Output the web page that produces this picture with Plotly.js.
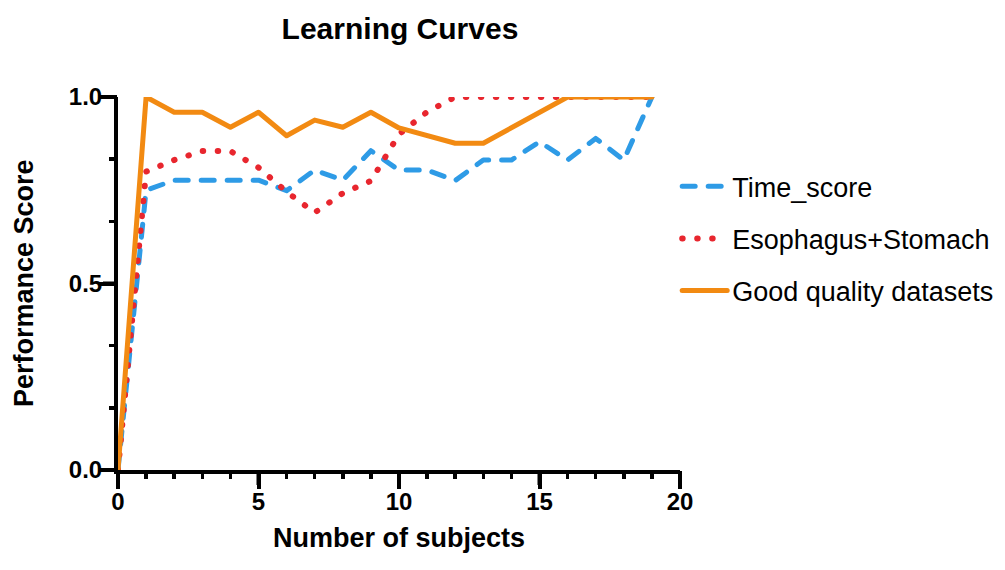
<!DOCTYPE html>
<html>
<head>
<meta charset="utf-8">
<script src="https://cdn.plot.ly/plotly-3.0.1.min.js"></script>
<style>
html,body{margin:0;padding:0;background:#fff;}
#chart{width:1005px;height:570px;}
.js-line{stroke-linecap:round;stroke-linejoin:round;}
.legendlines path{stroke-linecap:round;}
</style>
</head>
<body>
<div id="chart"></div>
<script>
const subjects = [0,1,2,3,4,5,6,7,8,9,10,11,12,13,14,15,16,17,18,19];
const timeScore = [0,0.75,0.777,0.777,0.777,0.777,0.749,0.804,0.777,0.856,0.804,0.804,0.776,0.831,0.831,0.88,0.831,0.889,0.831,1.0];
const esophagusStomach = [0,0.80,0.831,0.855,0.855,0.811,0.746,0.69,0.742,0.775,0.90,0.96,1.0,1.0,1.0,1.0,1.0,1.0,1.0,1.0];
const goodQuality = [0,1.0,0.959,0.959,0.919,0.959,0.896,0.938,0.919,0.959,0.917,0.898,0.876,0.876,0.917,0.959,1.0,1.0,1.0,1.0];
const seriesNames = ["Time_score","Esophagus+Stomach","Good quality datasets"];
const titleText = "Learning Curves";
const xTitle = "Number of subjects";
const yTitle = "Performance Score";
const xRange = [0,20];
const yRange = [0,1];
const xMajorTicks = [0,5,10,15,20];
const yMajorTicks = [0,0.5,1.0];
const xTickStep = 5, xMinorStep = 1;
const yTickStep = 0.5, yMinorStep = 1/6;

const FONT = "Arial, 'Liberation Sans', Helvetica, sans-serif";

const traces = [
  {x: subjects, y: timeScore, name: seriesNames[0], mode:'lines', legendgroup:'a', cliponaxis:false,
   line:{color:'#2E9BE6', width:5, dash:'13px,13px'}},
  {x: subjects, y: esophagusStomach, name: seriesNames[1], mode:'lines', legendgroup:'b', cliponaxis:false,
   line:{color:'#E8262E', width:6, dash:'0.5px,14.5px'}},
  {x: subjects, y: goodQuality, name: seriesNames[2], mode:'lines', legendgroup:'c', cliponaxis:false,
   line:{color:'#F28A12', width:5}},
  {x: subjects, y: goodQuality, xaxis:'x2', yaxis:'y2', mode:'lines', showlegend:false,
   hoverinfo:'skip', opacity:0, line:{width:0}},
  {x: subjects, y: goodQuality, xaxis:'x3', yaxis:'y3', mode:'lines', showlegend:false,
   hoverinfo:'skip', opacity:0, line:{width:0}}
];

const noGrid = {showgrid:false, zeroline:false};
const minorCommon = Object.assign({}, noGrid, {
  showline:false, showticklabels:false,
  ticks:'outside', ticklen:8, tickwidth:3.5, tickcolor:'#000', tickmode:'linear', tick0:0
});
const majorCommon = Object.assign({}, noGrid, {
  showline:false, ticks:'outside', ticklen:15, tickwidth:4, tickcolor:'#000',
  tickmode:'linear', tick0:0, ticklabelstandoff:-5,
  tickfont:{family:FONT, size:24, color:'#000', weight:'bold'}
});

// major tick marks drawn as shapes positioned by axis value, length in pixels
const tickShapes = [];
xMajorTicks.forEach(function(v){
  tickShapes.push({type:'line', xref:'x', yref:'paper', x0:v, x1:v,
    ysizemode:'pixel', yanchor:0, y0:0, y1:-15, layer:'above', line:{color:'#000', width:4}});
});
yMajorTicks.forEach(function(v){
  tickShapes.push({type:'line', yref:'y', xref:'paper', y0:v, y1:v,
    xsizemode:'pixel', xanchor:0, x0:0, x1:-15, layer:'above', line:{color:'#000', width:4}});
});

const layout = {
  width:1005, height:570,
  margin:{l:118, r:325, t:97, b:100, autoexpand:false},
  paper_bgcolor:'#fff', plot_bgcolor:'#fff',
  title:{text:'<b>'+titleText+'</b>', x:0.398, xanchor:'center', y:0.95, yanchor:'middle',
         font:{family:FONT, size:30, color:'#000'}},
  xaxis: Object.assign({}, noGrid, {range:xRange, showline:true, linecolor:'#000', linewidth:4,
    ticks:'outside', ticklen:15, tickwidth:4, tickcolor:'#000', tickmode:'linear', tick0:0, dtick:xTickStep,
    showticklabels:false}),
  yaxis: Object.assign({}, noGrid, {range:yRange, showline:true, linecolor:'#000', linewidth:4,
    ticks:'outside', ticklen:15, tickwidth:4, tickcolor:'#000', tickmode:'linear', tick0:0, dtick:yTickStep,
    showticklabels:false}),
  xaxis2: Object.assign({}, minorCommon, {overlaying:'x', anchor:'y2', side:'bottom', range:xRange, dtick:xMinorStep}),
  yaxis2: Object.assign({}, minorCommon, {overlaying:'y', anchor:'x2', side:'left', range:yRange, dtick:yMinorStep}),
  xaxis3: Object.assign({}, majorCommon, {overlaying:'x', anchor:'y3', side:'bottom', range:xRange, dtick:xTickStep}),
  yaxis3: Object.assign({}, majorCommon, {overlaying:'y', anchor:'x3', side:'left', range:yRange, dtick:yTickStep,
    tickformat:'.1f'}),
  shapes: tickShapes,
  annotations:[
    {text:'<b>'+xTitle+'</b>', xref:'paper', yref:'paper', x:0.5, y:-0.183, xanchor:'center', yanchor:'middle',
     showarrow:false, font:{family:FONT, size:27, color:'#000'}},
    {text:'<b>'+yTitle+'</b>', xref:'paper', yref:'paper', x:-0.168, y:0.5, xanchor:'center', yanchor:'middle',
     textangle:-90, showarrow:false, font:{family:FONT, size:27, color:'#000'}}
  ],
  showlegend:true,
  legend:{x:0.995, xanchor:'left', y:0.825, yanchor:'top', tracegroupgap:14, itemwidth:45,
          font:{family:FONT, size:27, color:'#000'}, bgcolor:'rgba(0,0,0,0)'}
};

Plotly.newPlot('chart', traces, layout, {displayModeBar:false, staticPlot:true});
</script>
</body>
</html>
